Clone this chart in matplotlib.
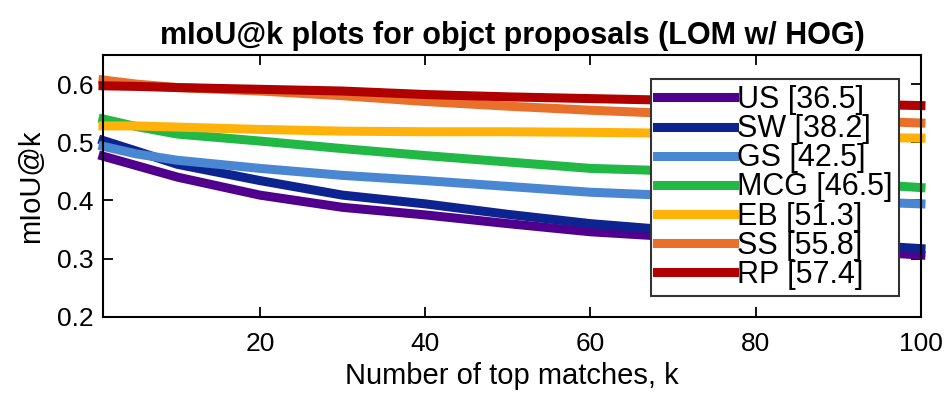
import matplotlib
matplotlib.use("Agg")
import matplotlib.pyplot as plt

plt.rcParams['font.family'] = ['Liberation Sans', 'DejaVu Sans']

k = [1, 5, 10, 20, 30, 40, 50, 60, 67, 80, 90, 100]
series_names = ["US [36.5]", "SW [38.2]", "GS [42.5]", "MCG [46.5]", "EB [51.3]", "SS [55.8]", "RP [57.4]"]
US = [0.476, 0.460, 0.440, 0.409, 0.388, 0.375, 0.360, 0.346, 0.340, 0.325, 0.315, 0.306]
SW = [0.503, 0.485, 0.462, 0.434, 0.409, 0.394, 0.376, 0.360, 0.352, 0.337, 0.326, 0.317]
GS = [0.493, 0.480, 0.469, 0.455, 0.443, 0.434, 0.424, 0.414, 0.410, 0.404, 0.399, 0.394]
MCG = [0.540, 0.527, 0.514, 0.502, 0.489, 0.477, 0.466, 0.455, 0.452, 0.440, 0.431, 0.422]
EB = [0.528, 0.528, 0.526, 0.522, 0.519, 0.518, 0.518, 0.517, 0.516, 0.512, 0.509, 0.507]
SS = [0.607, 0.600, 0.594, 0.588, 0.580, 0.570, 0.562, 0.555, 0.551, 0.543, 0.538, 0.533]
RP = [0.597, 0.596, 0.594, 0.591, 0.588, 0.582, 0.578, 0.575, 0.573, 0.569, 0.566, 0.563]
series = [US, SW, GS, MCG, EB, SS, RP]
colors = ["#50008C", "#0D2490", "#4A87D2", "#22B845", "#FFB30A", "#E8702A", "#B00000"]

xticks = [20, 40, 60, 80, 100]
yticks = [0.2, 0.3, 0.4, 0.5, 0.6]

fig = plt.figure(figsize=(9.52, 3.97), dpi=100)
ax = fig.add_axes([0.1082, 0.2023, 0.8592, 0.6592])

for name, vals, c in zip(series_names, series, colors):
    ax.plot(k, vals, color=c, lw=6.5, label=name, solid_capstyle='projecting',
            solid_joinstyle='round', clip_on=False)

ax.set_xlim(1, 100)
ax.set_ylim(0.2, 0.65)
ax.set_xticks(xticks)
ax.set_xticklabels([str(t) for t in xticks])
ax.set_yticks(yticks)
ax.set_yticklabels([f"{t:.1f}" for t in yticks])
ax.tick_params(direction='in', length=7, width=1.3, top=True, right=True,
               labelsize=19)
ax.tick_params(axis='x', pad=11)
ax.tick_params(axis='y', pad=7)
for s in ax.spines.values():
    s.set_linewidth(1.5)
    s.set_color('black')
    s.set_zorder(5)

ax.set_title("mIoU@k plots for objct proposals (LOM w/ HOG)", fontsize=22,
             fontweight='bold', pad=8)
ax.set_xlabel("Number of top matches, k", fontsize=21, labelpad=4)
ax.set_ylabel("mIoU@k", fontsize=21, labelpad=8)

leg = ax.legend(loc='upper right', bbox_to_anchor=(0.973, 0.908), fontsize=22,
                frameon=True, fancybox=False, framealpha=1, edgecolor='#333333',
                handlelength=2.5, handletextpad=0.12, labelspacing=-0.03,
                borderpad=0.2, borderaxespad=0.0)
leg.get_frame().set_linewidth(1.5)
leg.set_zorder(10)

fig.savefig("out.png", dpi=100)
